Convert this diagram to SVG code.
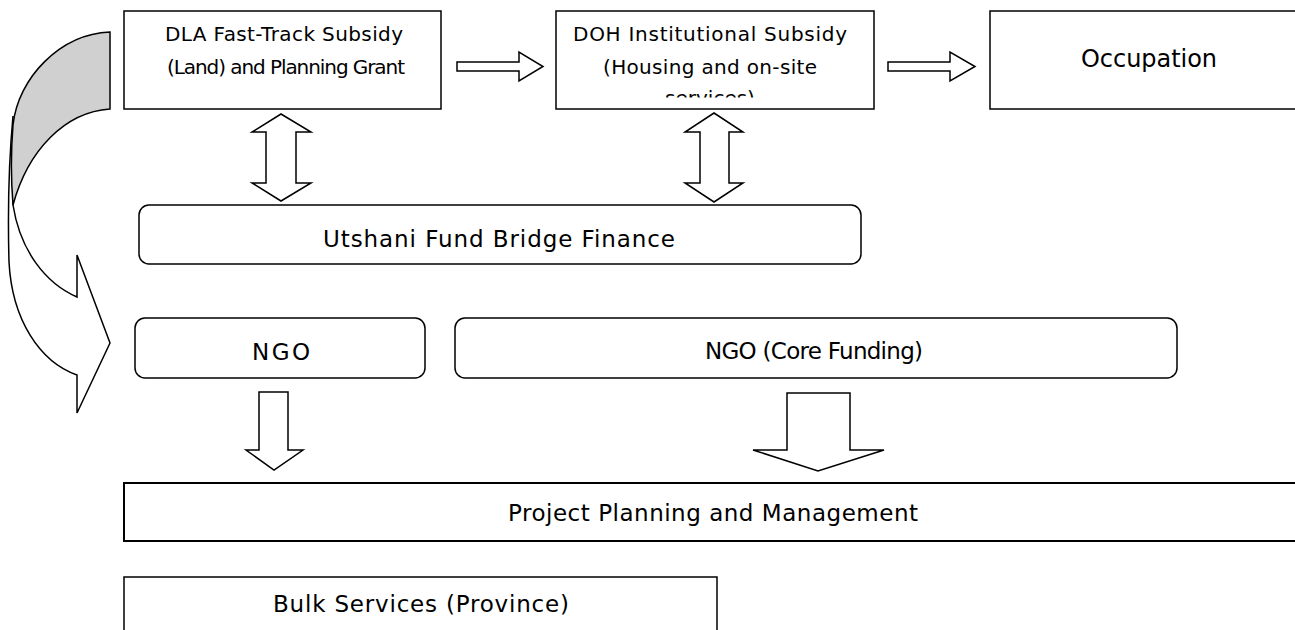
<svg xmlns="http://www.w3.org/2000/svg" width="1295" height="630" viewBox="0 0 1295 630">
  <style>
    .box { fill: #ffffff; stroke: #000000; stroke-width: 1.5; }
    .box2 { fill: #ffffff; stroke: #000000; stroke-width: 2; }
    .arrow { fill: #ffffff; stroke: #000000; stroke-width: 1.5; stroke-linejoin: miter; }
    .back { fill: #d0d0d0; stroke: #000000; stroke-width: 1.5; }
    text { font-family: "DejaVu Sans", "Liberation Sans", sans-serif; fill: #000000; text-anchor: middle; }
    .s { font-size: 20px; }
    .m { font-size: 23px; }
    .l { font-size: 24px; }
  </style>
  <defs>
    <clipPath id="dohClip">
      <rect x="557" y="12" width="316" height="85.5"/>
    </clipPath>
  </defs>

  <rect width="1295" height="630" fill="#ffffff"/>

  <!-- curved arrow on the left: shaded back of the band, then the front band with its head -->
  <g id="curved-arrow">
    <path class="arrow" d="M13,116 C8,170 8,225 9,262 C12,320 40,362 77,375 L77,413 L110,343 L77,255 L77,297 C45,283 20,250 13,205 Z"/>
    <path class="back" d="M110,32 C60,34 18,78 13,125 C11,150 11,180 13,205 C28,150 65,112 110,109 Z"/>
  </g>

  <g id="dla">
    <rect class="box" x="124" y="11" width="317" height="98"/>
    <text class="s" x="284" y="41" textLength="238">DLA Fast-Track Subsidy</text>
    <text class="s" x="286" y="74" textLength="238">(Land) and Planning Grant</text>
  </g>

  <g id="doh">
    <rect class="box" x="556" y="11" width="318" height="98"/>
    <g clip-path="url(#dohClip)">
      <text class="s" x="710" y="41" textLength="274">DOH Institutional Subsidy</text>
      <text class="s" x="710" y="74" textLength="214">(Housing and on-site</text>
      <text class="s" x="710" y="105">services)</text>
    </g>
  </g>

  <g id="occupation">
    <rect class="box" x="990" y="11" width="320" height="98"/>
    <text class="l" x="1149" y="67" textLength="136">Occupation</text>
  </g>

  <g id="utshani">
    <rect class="box" x="139" y="205" width="722" height="59" rx="10" ry="10"/>
    <text class="m" x="499" y="247" textLength="352">Utshani Fund Bridge Finance</text>
  </g>

  <g id="ngo">
    <rect class="box" x="135" y="318" width="290" height="60" rx="10" ry="10"/>
    <text class="m" x="281" y="360" textLength="58">NGO</text>
  </g>

  <g id="ngo-core">
    <rect class="box" x="455" y="318" width="722" height="60" rx="10" ry="10"/>
    <text class="m" x="814" y="359" textLength="218">NGO (Core Funding)</text>
  </g>

  <g id="project">
    <rect class="box2" x="124" y="483" width="1180" height="58"/>
    <text class="m" x="713" y="521" textLength="410">Project Planning and Management</text>
  </g>

  <g id="bulk">
    <rect class="box" x="124" y="577" width="593" height="70"/>
    <text class="m" x="421" y="612" textLength="296">Bulk Services (Province)</text>
  </g>

  <g id="connectors">
    <polygon class="arrow" points="457,62 519,62 519,52 543,66.5 519,81 519,71 457,71"/>
    <polygon class="arrow" points="888,62 950,62 950,52 975,66.5 950,81 950,71 888,71"/>
    <polygon class="arrow" points="281,114 311,132 296,132 296,183 311,183 281,201 252,183 266,183 266,132 252,132"/>
    <polygon class="arrow" points="714,113 743,132 729,132 729,183 743,183 714,202 685,183 700,183 700,132 685,132"/>
    <polygon class="arrow" points="259,392 288,392 288,450 303,450 274,470 246,450 259,450"/>
    <polygon class="arrow" points="787,393 850,393 850,450 884,450 818,471 753,450 787,450"/>
  </g>
</svg>
